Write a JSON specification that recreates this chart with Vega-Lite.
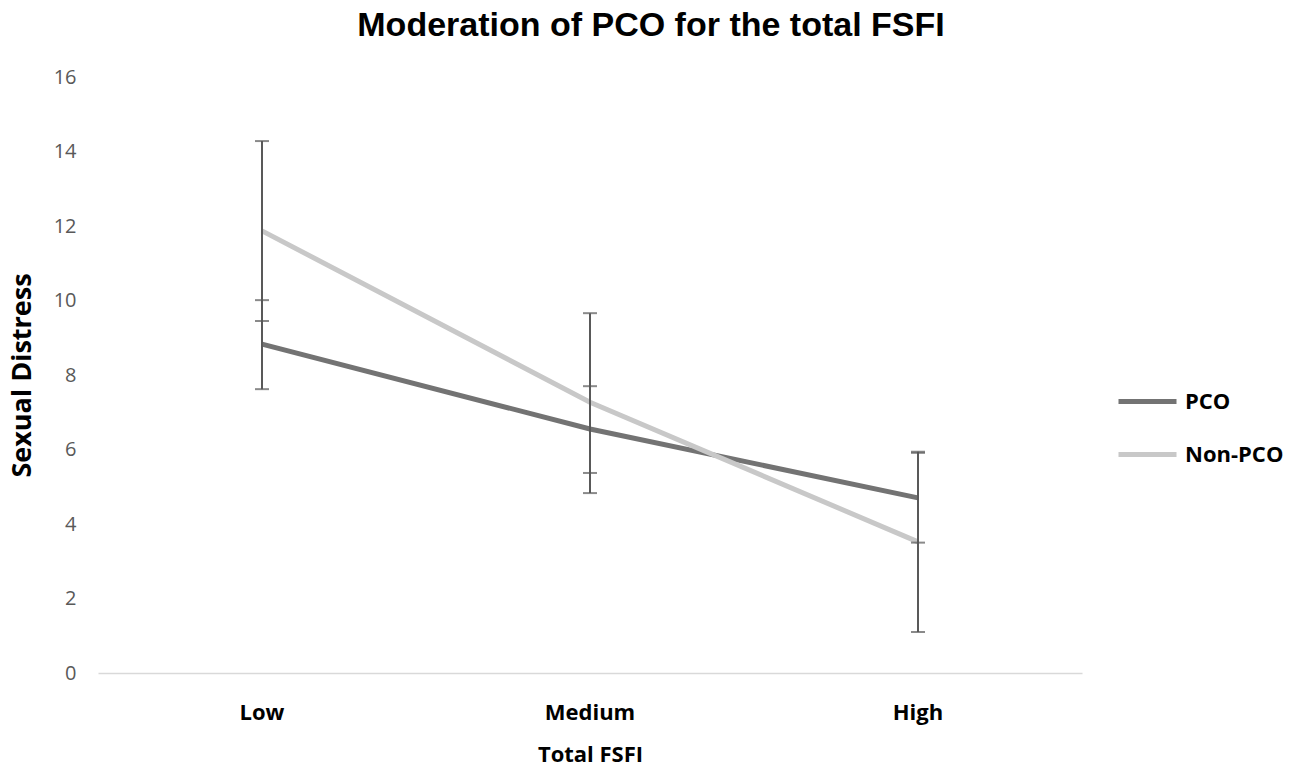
{
  "$schema": "https://vega.github.io/schema/vega-lite/v6.json",
  "width": 984,
  "height": 596,
  "autosize": "none",
  "padding": {"left": 98, "top": 77, "right": 227, "bottom": 97},
  "background": "white",
  "config": {"view": {"stroke": null}},
  "title": {
    "text": "Moderation of PCO for the total FSFI",
    "font": "Liberation Sans",
    "fontSize": 34,
    "fontWeight": "bold",
    "color": "#000000",
    "anchor": "middle",
    "dx": 61,
    "offset": 24
  },
  "data": {
    "values": [
      {"level": "Low", "group": "PCO", "mean": 8.83, "lo": 7.62, "hi": 10.01},
      {"level": "Medium", "group": "PCO", "mean": 6.55, "lo": 5.37, "hi": 7.70},
      {"level": "High", "group": "PCO", "mean": 4.70, "lo": 3.50, "hi": 5.91},
      {"level": "Low", "group": "Non-PCO", "mean": 11.87, "lo": 9.45, "hi": 14.28},
      {"level": "Medium", "group": "Non-PCO", "mean": 7.27, "lo": 4.83, "hi": 9.66},
      {"level": "High", "group": "Non-PCO", "mean": 3.52, "lo": 1.10, "hi": 5.94}
    ]
  },
  "encoding": {
    "x": {
      "field": "level",
      "type": "ordinal",
      "sort": ["Low", "Medium", "High"],
      "scale": {"paddingInner": 0, "paddingOuter": 0},
      "axis": {
        "title": "Total FSFI",
        "titleFont": "Open Sans",
        "titleFontSize": 22,
        "titleFontWeight": "bold",
        "titleColor": "#000000",
        "titlePadding": 21,
        "labelFont": "Open Sans",
        "labelFontSize": 22,
        "labelFontWeight": "bold",
        "labelColor": "#000000",
        "labelAngle": 0,
        "labelPadding": 29,
        "ticks": false,
        "domainColor": "#d9d9d9",
        "domainWidth": 1.5,
        "grid": false
      }
    }
  },
  "layer": [
    {
      "mark": {"type": "line", "strokeWidth": 5},
      "encoding": {
        "y": {
          "field": "mean",
          "type": "quantitative",
          "scale": {"domain": [0, 16]},
          "axis": {
            "title": "Sexual Distress",
            "titleFont": "Open Sans",
            "titleFontSize": 27,
            "titleFontWeight": "bold",
            "titleColor": "#000000",
            "titlePadding": 17,
            "values": [0, 2, 4, 6, 8, 10, 12, 14, 16],
            "labelFont": "Open Sans",
            "labelFontSize": 20,
            "labelColor": "#595959",
            "labelPadding": 22,
            "ticks": false,
            "domain": false,
            "grid": false
          }
        },
        "color": {
          "field": "group",
          "type": "nominal",
          "scale": {"domain": ["PCO", "Non-PCO"], "range": ["#737373", "#c8c8c8"]},
          "legend": {
            "title": null,
            "orient": "none",
            "legendX": 1018,
            "legendY": 293,
            "symbolType": "stroke",
            "symbolStrokeWidth": 5,
            "symbolSize": 3364,
            "labelFont": "Open Sans",
            "labelFontSize": 22,
            "labelFontWeight": "bold",
            "labelColor": "#000000",
            "labelOffset": 6,
            "rowPadding": 10
          }
        }
      }
    },
    {
      "mark": {"type": "rule", "color": "#595959", "strokeWidth": 2},
      "encoding": {
        "y": {"field": "lo", "type": "quantitative"},
        "y2": {"field": "hi"}
      }
    },
    {
      "mark": {"type": "tick", "color": "#595959", "orient": "horizontal", "size": 14, "thickness": 2},
      "encoding": {"y": {"field": "lo", "type": "quantitative"}}
    },
    {
      "mark": {"type": "tick", "color": "#595959", "orient": "horizontal", "size": 14, "thickness": 2},
      "encoding": {"y": {"field": "hi", "type": "quantitative"}}
    }
  ]
}
